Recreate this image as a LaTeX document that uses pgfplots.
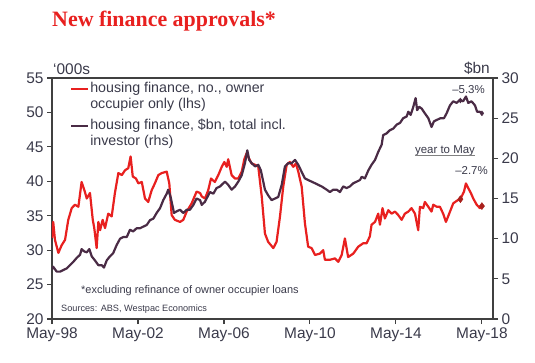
\documentclass[border=0pt]{standalone}
\usepackage{pgfplots}
\pgfplotsset{compat=1.18}
\usepackage{fontspec}
\setmainfont{Liberation Sans}
\newfontfamily\titlefont{Liberation Serif}
\definecolor{redS}{HTML}{E8201F}
\definecolor{purpS}{HTML}{4A2B45}
\definecolor{txt}{HTML}{3A3A4A}
\definecolor{axc}{HTML}{404040}
\definecolor{mkred}{HTML}{A8201C}
\begin{document}
\begin{tikzpicture}[x=1bp,y=1bp]
\useasboundingbox (-52,-43) rectangle (483,319);
\pgfplotsset{
  common/.style={
    at={(0,0)}, anchor=south west,
    scale only axis, width=441bp, height=241bp,
    xmin=1998.333, xmax=2018.85,
    tick align=outside, major tick length=5bp,
    axis line style={axc, line width=1.1bp},
    tick style={axc, line width=1.1bp},
    ticklabel style={font=\fontsize{15.5}{18}\selectfont, text=txt},
    /pgf/number format/assume math mode=true,
  }
}
\begin{axis}[common,
  ymin=20, ymax=55, ytick={20,25,...,55},
  xtick={1998.333,2002.333,2006.333,2010.333,2014.333,2018.333},
  xticklabels={May-98,May-02,May-06,May-10,May-14,May-18},
  xtick pos=bottom, ytick pos=left,
  legend style={at={(0.041,0.988)}, anchor=north west, draw=none, fill=none,
    inner sep=0pt, outer sep=0pt, row sep=0bp, column sep=0bp,
    font=\fontsize{14.3}{16}\selectfont, text=txt,
    nodes={inner sep=1bp, text height=10.5bp, text depth=3.5bp}},
  legend cell align=left,
  legend image code/.code={\draw[#1] (0bp,0bp) -- (17bp,0bp);},
]
\addplot[redS, line width=2.2bp, line join=round] coordinates {
(1998.33,31.8)(1998.39,34.1)(1998.47,31.5)(1998.63,29.6)(1998.78,30.7)(1998.94,31.5)(1999.09,34.4)(1999.25,36.1)(1999.40,36.6)(1999.56,36.3)(1999.71,39.9)(1999.84,38.7)(1999.95,37.5)(2000.10,38.3)(2000.23,34.4)(2000.30,33.2)(2000.41,30.3)(2000.49,34.1)(2000.57,32.9)(2000.69,34.4)(2000.80,33.2)(2000.95,35.3)(2001.11,34.9)(2001.26,38.3)(2001.42,41.2)(2001.58,40.9)(2001.73,41.6)(2001.88,41.9)(2001.99,43.6)(2002.09,40.7)(2002.24,40.4)(2002.35,39.7)(2002.51,39.9)(2002.66,37.5)(2002.81,37.0)(2002.97,38.7)(2003.12,39.7)(2003.28,40.9)(2003.44,41.2)(2003.67,41.4)(2003.79,39.7)(2003.90,35.1)(2004.05,34.4)(2004.29,34.1)(2004.44,34.4)(2004.60,35.6)(2004.83,36.8)(2005.06,38.5)(2005.22,38.3)(2005.30,37.8)(2005.45,37.5)(2005.60,38.7)(2005.73,40.4)(2005.91,39.9)(2006.07,40.9)(2006.23,42.1)(2006.35,42.8)(2006.46,42.1)(2006.53,43.2)(2006.69,40.9)(2006.85,40.4)(2007.00,40.4)(2007.16,41.4)(2007.28,43.2)(2007.39,44.1)(2007.50,43.3)(2007.62,42.6)(2007.78,42.4)(2007.93,42.1)(2008.09,37.8)(2008.24,32.4)(2008.39,31.2)(2008.63,30.3)(2008.78,31.2)(2008.94,34.9)(2009.09,39.2)(2009.25,42.4)(2009.40,42.8)(2009.56,42.1)(2009.68,42.6)(2009.79,41.4)(2009.95,39.2)(2010.10,33.9)(2010.25,30.5)(2010.41,30.3)(2010.57,29.3)(2010.80,29.5)(2010.95,30.0)(2011.03,28.6)(2011.26,28.6)(2011.50,28.8)(2011.65,28.3)(2011.81,29.3)(2011.96,31.7)(2012.11,29.0)(2012.35,29.5)(2012.58,30.5)(2012.81,31.0)(2012.97,31.0)(2013.12,32.0)(2013.20,33.7)(2013.36,34.1)(2013.51,35.3)(2013.59,33.7)(2013.71,36.1)(2013.82,34.6)(2013.98,35.8)(2014.13,35.3)(2014.29,35.6)(2014.44,35.1)(2014.60,34.4)(2014.75,35.3)(2014.91,35.6)(2015.06,36.1)(2015.22,35.3)(2015.37,32.9)(2015.45,36.3)(2015.60,36.1)(2015.68,37.0)(2015.84,36.3)(2015.99,35.6)(2016.07,36.6)(2016.23,36.3)(2016.38,36.3)(2016.53,35.3)(2016.66,34.1)(2016.85,35.6)(2017.00,36.8)(2017.23,37.3)(2017.33,37.4)(2017.50,38.5)(2017.59,39.7)(2017.70,39.0)(2017.82,38.3)(2017.93,37.5)(2018.09,36.6)(2018.24,36.1)(2018.33,36.4)
};
\addlegendentry{housing finance, no., owner}
\addlegendimage{empty legend}
\addlegendentry[text depth=8.5bp]{occupier only (lhs)}
\addlegendimage{purpS, line width=2.2bp}
\addlegendentry{housing finance, \$bn, total incl.}
\addlegendimage{empty legend}
\addlegendentry{investor (rhs)}
\addplot[forget plot, only marks, mark=diamond*, mark size=3.5bp, color=mkred] coordinates {(2017.333,37.4)(2018.333,36.4)};
\end{axis}
\begin{axis}[common,
  ymin=0, ymax=30, ytick={0,5,...,30},
  axis x line=none, axis y line*=right,
]
\addplot[purpS, line width=2.2bp, line join=round] coordinates {
(1998.33,6.2)(1998.39,6.5)(1998.55,5.9)(1998.71,5.9)(1998.86,6.1)(1999.02,6.3)(1999.17,6.7)(1999.32,7.1)(1999.48,7.6)(1999.64,8.0)(1999.71,8.7)(1999.84,8.4)(1999.95,8.3)(2000.07,8.7)(2000.18,7.8)(2000.33,7.3)(2000.49,6.7)(2000.65,6.7)(2000.75,6.4)(2000.88,7.3)(2001.03,7.8)(2001.18,8.2)(2001.34,9.2)(2001.50,10.0)(2001.65,10.2)(2001.81,10.2)(2001.96,11.1)(2002.11,10.9)(2002.27,11.3)(2002.43,11.3)(2002.58,11.5)(2002.74,11.7)(2002.89,12.3)(2003.05,12.5)(2003.20,13.2)(2003.36,13.8)(2003.51,14.8)(2003.67,15.6)(2003.74,16.1)(2003.85,15.2)(2004.01,13.2)(2004.13,13.4)(2004.29,13.6)(2004.44,13.2)(2004.60,13.6)(2004.75,13.6)(2004.91,14.2)(2005.06,15.0)(2005.22,14.8)(2005.30,14.2)(2005.45,14.6)(2005.68,15.8)(2005.84,15.6)(2005.99,16.3)(2006.15,16.5)(2006.38,17.1)(2006.53,16.7)(2006.69,16.1)(2006.85,16.5)(2007.00,17.1)(2007.16,17.9)(2007.31,19.4)(2007.42,21.0)(2007.51,19.8)(2007.62,19.4)(2007.78,19.0)(2007.93,19.2)(2008.05,18.5)(2008.24,16.1)(2008.39,15.4)(2008.55,14.8)(2008.71,15.0)(2008.86,15.2)(2009.02,16.7)(2009.17,19.0)(2009.32,19.4)(2009.48,19.4)(2009.64,19.8)(2009.79,19.2)(2009.95,18.3)(2010.10,17.5)(2010.25,17.3)(2010.41,17.1)(2010.57,16.9)(2010.72,16.7)(2010.88,16.5)(2011.11,16.1)(2011.26,15.8)(2011.42,16.1)(2011.58,16.1)(2011.73,15.8)(2011.88,16.5)(2012.04,16.3)(2012.19,16.5)(2012.35,16.9)(2012.51,17.1)(2012.66,17.3)(2012.74,17.7)(2012.89,17.5)(2013.05,18.5)(2013.20,19.2)(2013.36,19.8)(2013.51,20.8)(2013.67,21.7)(2013.74,22.9)(2013.90,23.1)(2014.05,23.5)(2014.21,23.7)(2014.37,24.2)(2014.52,24.4)(2014.67,25.0)(2014.83,25.2)(2014.91,25.8)(2015.02,25.4)(2015.14,26.4)(2015.25,27.5)(2015.32,26.0)(2015.42,26.4)(2015.53,26.2)(2015.68,25.6)(2015.84,25.0)(2015.99,23.9)(2016.10,24.6)(2016.25,24.8)(2016.41,25.0)(2016.57,25.0)(2016.69,25.6)(2016.85,26.6)(2017.00,27.1)(2017.16,26.9)(2017.31,27.3)(2017.46,27.1)(2017.59,27.7)(2017.70,26.9)(2017.85,27.1)(2018.01,26.6)(2018.11,25.8)(2018.24,25.8)(2018.33,25.6)
};
\addplot[only marks, mark=diamond*, mark size=2.5bp, color=purpS] coordinates {(2017.333,27.2)(2018.333,25.6)};
\end{axis}
% title and annotations
\node[anchor=base west, inner sep=0pt, text=redS] at (0,293) {\titlefont\bfseries\fontsize{22}{24}\selectfont New finance approvals*};
\node[anchor=base west, inner sep=0pt, text=txt] at (1,245) {\fontsize{15.5}{18}\selectfont ‘000s};
\node[anchor=base east, inner sep=0pt, text=txt] at (438,246) {\fontsize{15.5}{18}\selectfont \$bn};
\node[anchor=base east, inner sep=0pt, text=txt] at (433,226) {\fontsize{11.5}{13}\selectfont –5.3\%};
\node[anchor=base, inner sep=0pt, text=txt] at (393,166) {\fontsize{11.5}{13}\selectfont year to May};
\draw[gray, line width=1.3bp] (363,163.3) -- (423,163.3);
\node[anchor=base east, inner sep=0pt, text=txt] at (436,145) {\fontsize{11.5}{13}\selectfont –2.7\%};
\node[anchor=base west, inner sep=0pt, text=txt] at (29,26) {\fontsize{11}{13}\selectfont *excluding refinance of owner occupier loans};
\node[anchor=base west, inner sep=0pt, text=txt] at (9,8) {\fontsize{9.2}{11}\selectfont Sources: ABS, Westpac Economics};
\end{tikzpicture}
\end{document}
